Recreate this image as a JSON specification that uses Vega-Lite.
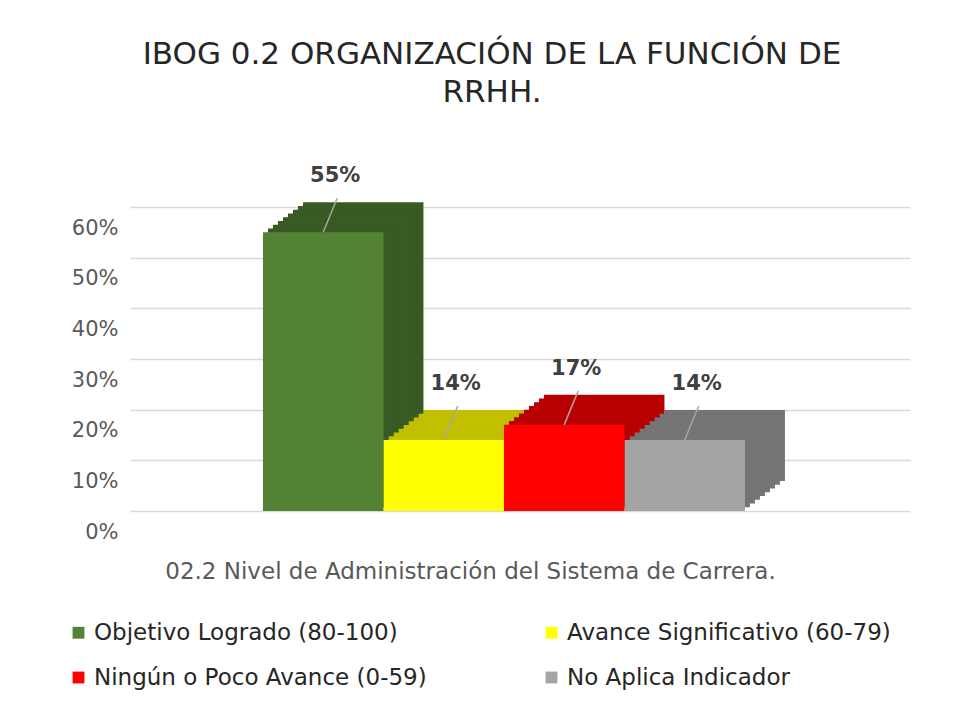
{
  "$schema": "https://vega.github.io/schema/vega-lite/v6.json",
  "autosize": {"type": "none"},
  "width": 780,
  "height": 304,
  "padding": {"left": 130, "top": 207, "right": 61, "bottom": 195},
  "background": "white",
  "config": {
    "font": "DejaVu Sans",
    "view": {"stroke": null}
  },
  "title": {
    "text": ["IBOG 0.2 ORGANIZACIÓN DE LA FUNCIÓN DE", "RRHH."],
    "fontSize": 31,
    "fontWeight": "normal",
    "color": "#262626",
    "anchor": "middle",
    "dx": -28,
    "offset": 56,
    "lineHeight": 38
  },
  "data": {
    "values": [
      {"serie": "Objetivo Logrado (80-100)", "valor": 0.55},
      {"serie": "Avance Significativo (60-79)", "valor": 0.14},
      {"serie": "Ningún o Poco Avance (0-59)", "valor": 0.17},
      {"serie": "No Aplica Indicador", "valor": 0.14}
    ]
  },
  "encoding": {
    "x": {
      "field": "serie",
      "type": "nominal",
      "sort": null,
      "scale": {
        "domain": ["Objetivo Logrado (80-100)", "Avance Significativo (60-79)", "Ningún o Poco Avance (0-59)", "No Aplica Indicador", "·"],
        "paddingInner": 0,
        "paddingOuter": 0.7365,
        "align": 0.749
      },
      "axis": {
        "labels": false,
        "ticks": false,
        "domain": false,
        "title": "02.2 Nivel de Administración del Sistema de Carrera.",
        "titleFontSize": 23,
        "titleFontWeight": "normal",
        "titleColor": "#595959",
        "titleX": 340,
        "titleY": 60,
        "titleAlign": "center",
        "titleBaseline": "middle"
      }
    },
    "y": {
      "field": "valor",
      "type": "quantitative",
      "stack": null,
      "scale": {"domain": [0, 0.6]},
      "axis": {
        "format": ".0%",
        "values": [0, 0.1, 0.2, 0.3, 0.4, 0.5, 0.6],
        "title": null,
        "domain": false,
        "ticks": false,
        "labelFontSize": 21,
        "labelColor": "#595959",
        "labelPadding": 12,
        "labelOffset": 21,
        "gridColor": "#d9d9d9",
        "gridWidth": 1.5
      }
    },
    "order": {"field": "valor", "type": "quantitative", "sort": "ascending"}
  },
  "layer": [
    {"mark": {"type": "bar", "xOffset": 40, "x2Offset": 40, "yOffset": -30, "y2Offset": -30}, "encoding": {"y2": {"datum": 0}, "color": {"field": "serie", "type": "nominal", "scale": {"domain": ["Objetivo Logrado (80-100)", "Avance Significativo (60-79)", "Ningún o Poco Avance (0-59)", "No Aplica Indicador"], "range": ["#385a23", "#c0c000", "#b80000", "#757575"]}, "legend": null}}},
    {"mark": {"type": "bar", "xOffset": 35, "x2Offset": 35, "yOffset": -26.25, "y2Offset": -26.25}, "encoding": {"y2": {"datum": 0}, "color": {"field": "serie", "type": "nominal", "scale": {"domain": ["Objetivo Logrado (80-100)", "Avance Significativo (60-79)", "Ningún o Poco Avance (0-59)", "No Aplica Indicador"], "range": ["#385a23", "#c0c000", "#b80000", "#757575"]}, "legend": null}}},
    {"mark": {"type": "bar", "xOffset": 30, "x2Offset": 30, "yOffset": -22.5, "y2Offset": -22.5}, "encoding": {"y2": {"datum": 0}, "color": {"field": "serie", "type": "nominal", "scale": {"domain": ["Objetivo Logrado (80-100)", "Avance Significativo (60-79)", "Ningún o Poco Avance (0-59)", "No Aplica Indicador"], "range": ["#385a23", "#c0c000", "#b80000", "#757575"]}, "legend": null}}},
    {"mark": {"type": "bar", "xOffset": 25, "x2Offset": 25, "yOffset": -18.75, "y2Offset": -18.75}, "encoding": {"y2": {"datum": 0}, "color": {"field": "serie", "type": "nominal", "scale": {"domain": ["Objetivo Logrado (80-100)", "Avance Significativo (60-79)", "Ningún o Poco Avance (0-59)", "No Aplica Indicador"], "range": ["#385a23", "#c0c000", "#b80000", "#757575"]}, "legend": null}}},
    {"mark": {"type": "bar", "xOffset": 20, "x2Offset": 20, "yOffset": -15, "y2Offset": -15}, "encoding": {"y2": {"datum": 0}, "color": {"field": "serie", "type": "nominal", "scale": {"domain": ["Objetivo Logrado (80-100)", "Avance Significativo (60-79)", "Ningún o Poco Avance (0-59)", "No Aplica Indicador"], "range": ["#385a23", "#c0c000", "#b80000", "#757575"]}, "legend": null}}},
    {"mark": {"type": "bar", "xOffset": 15, "x2Offset": 15, "yOffset": -11.25, "y2Offset": -11.25}, "encoding": {"y2": {"datum": 0}, "color": {"field": "serie", "type": "nominal", "scale": {"domain": ["Objetivo Logrado (80-100)", "Avance Significativo (60-79)", "Ningún o Poco Avance (0-59)", "No Aplica Indicador"], "range": ["#385a23", "#c0c000", "#b80000", "#757575"]}, "legend": null}}},
    {"mark": {"type": "bar", "xOffset": 10, "x2Offset": 10, "yOffset": -7.5, "y2Offset": -7.5}, "encoding": {"y2": {"datum": 0}, "color": {"field": "serie", "type": "nominal", "scale": {"domain": ["Objetivo Logrado (80-100)", "Avance Significativo (60-79)", "Ningún o Poco Avance (0-59)", "No Aplica Indicador"], "range": ["#385a23", "#c0c000", "#b80000", "#757575"]}, "legend": null}}},
    {"mark": {"type": "bar", "xOffset": 5, "x2Offset": 5, "yOffset": -3.75, "y2Offset": -3.75}, "encoding": {"y2": {"datum": 0}, "color": {"field": "serie", "type": "nominal", "scale": {"domain": ["Objetivo Logrado (80-100)", "Avance Significativo (60-79)", "Ningún o Poco Avance (0-59)", "No Aplica Indicador"], "range": ["#385a23", "#c0c000", "#b80000", "#757575"]}, "legend": null}}},
    {
      "mark": {"type": "bar"},
      "encoding": {
        "color": {
          "field": "serie",
          "type": "nominal",
          "sort": null,
          "scale": {
            "domain": ["Objetivo Logrado (80-100)", "Avance Significativo (60-79)", "Ningún o Poco Avance (0-59)", "No Aplica Indicador"],
            "range": ["#548235", "#ffff00", "#ff0000", "#a5a5a5"]
          },
          "legend": {
            "title": null,
            "orient": "none",
            "legendX": -63,
            "legendY": 414,
            "direction": "horizontal",
            "columns": 2,
            "columnPadding": 113,
            "rowPadding": 21,
            "symbolType": "square",
            "symbolSize": 140,
            "symbolStrokeWidth": 0,
            "labelFontSize": 23,
            "labelColor": "#262626",
            "labelOffset": 4,
            "labelLimit": 500
          }
        }
      }
    },
    {
      "mark": {"type": "rule", "color": "#a6a6a6", "strokeWidth": 1.5, "xOffset": 0, "x2Offset": 14, "yOffset": 0, "y2Offset": -34},
      "encoding": {
        "x2": {"field": "serie"},
        "y2": {"field": "valor"}
      }
    },
    {
      "mark": {"type": "text", "fontSize": 21, "fontWeight": "bold", "color": "#404040", "dy": -56, "dx": 12, "baseline": "middle"},
      "encoding": {
        "text": {"field": "valor", "type": "quantitative", "format": ".0%"}
      }
    }
  ],
  "resolve": {"scale": {"color": "independent"}}
}
